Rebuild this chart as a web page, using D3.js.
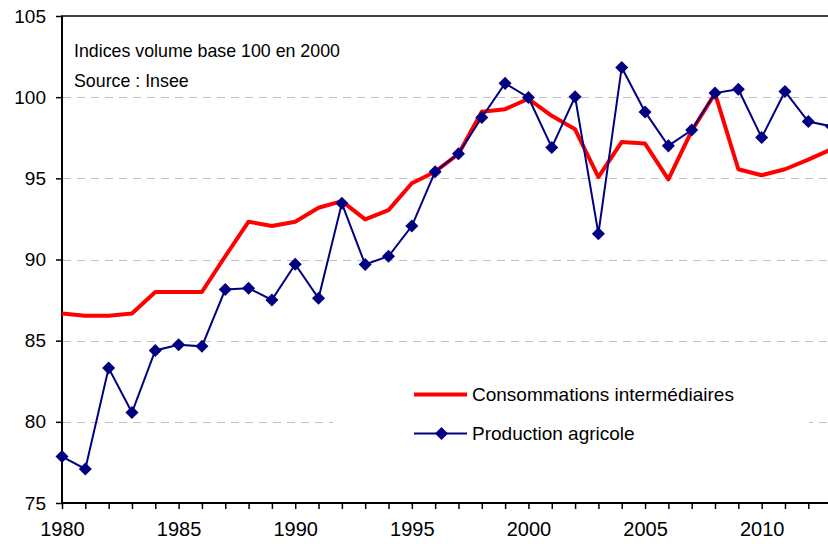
<!DOCTYPE html>
<html>
<head>
<meta charset="utf-8">
<script src="https://cdn.jsdelivr.net/npm/d3@7"></script>
<style>
  body { margin: 0; background: #fff; }
  svg { display: block; font-family: Arial, "Liberation Sans", sans-serif; }
</style>
</head>
<body>
<script>
// années et indices (base 100 en 2000)
let years = d3.range(1980, 2014);
let consommations = [86.67, 86.54, 86.54, 86.67, 88.0, 88.0, 88.0, 90.2, 92.33, 92.06,
  92.33, 93.19, 93.6, 92.47, 93.04, 94.7, 95.41, 96.5, 99.1, 99.26,
  99.9, 98.85, 98.02, 95.08, 97.24, 97.14, 94.94, 97.92, 100.23, 95.56,
  95.19, 95.56, 96.15, 96.8];
let production = [77.86, 77.1, 83.31, 80.57, 84.4, 84.75, 84.65, 88.15, 88.23, 87.51,
  89.71, 87.61, 93.46, 89.69, 90.2, 92.06, 95.41, 96.52, 98.75, 100.85,
  99.98, 96.9, 100.02, 91.59, 101.83, 99.09, 97.0, 97.98, 100.25, 100.49,
  97.51, 100.35, 98.5, 98.2];
let yTicks = [75, 80, 85, 90, 95, 100, 105];
let gridTicks = [80, 85, 90, 95, 100];
let xLabelYears = [1980, 1985, 1990, 1995, 2000, 2005, 2010];
let notes = ["Indices volume base 100 en 2000", "Source : Insee"];
let seriesNames = ["Consommations intermédiaires", "Production agricole"];

let W = 828, H = 544;
let svg = d3.select("body").append("svg").attr("width", W).attr("height", H);

let x = d3.scaleLinear().domain([1980, 2012]).range([62, 808.3]);
let y = d3.scaleLinear().domain([75, 105]).range([503, 16]);

// grille
svg.append("g").selectAll("line").data(gridTicks).enter().append("line")
  .attr("x1", 63).attr("x2", W)
  .attr("y1", d => Math.round(y(d)) + 0.5).attr("y2", d => Math.round(y(d)) + 0.5)
  .attr("stroke", "#c0c0c0").attr("stroke-width", 1)
  .attr("stroke-dasharray", "8,6");

// fond blanc de la légende (cache la grille)
svg.append("rect").attr("x", 333).attr("y", 362).attr("width", 476).attr("height", 100)
  .attr("fill", "#fff");

// axes
let yAxis = d3.axisLeft(y).tickValues(yTicks).tickSize(6).tickPadding(10);
let gy = svg.append("g").attr("transform", "translate(62,0)").call(yAxis);
gy.select(".domain").attr("stroke", "#000").attr("stroke-width", 2).attr("d", "M0," + y(105) + "V" + y(75));
gy.selectAll(".tick line").attr("stroke", "#000").attr("stroke-width", 1.5);
gy.selectAll(".tick text").attr("font-size", 19).attr("fill", "#000")
  .attr("font-family", "Arial, 'Liberation Sans', sans-serif");

let xAxis = d3.axisBottom(x).tickValues(years).tickSize(6).tickPadding(13)
  .tickFormat(d => xLabelYears.includes(d) ? d : "");
let gx = svg.append("g").attr("transform", "translate(0,503)").call(xAxis);
gx.select(".domain").attr("stroke", "#000").attr("stroke-width", 2).attr("d", "M61,0H" + W);
gx.selectAll(".tick line").attr("stroke", "#000").attr("stroke-width", 1.5);
gx.selectAll(".tick text").attr("font-size", 20).attr("fill", "#000")
  .attr("font-family", "Arial, 'Liberation Sans', sans-serif");

// bord haut
svg.append("line").attr("x1", 61).attr("x2", W).attr("y1", y(105)).attr("y2", y(105))
  .attr("stroke", "#000").attr("stroke-width", 1.5);

// notes
svg.append("g").selectAll("text").data(notes).enter().append("text")
  .attr("x", 74).attr("y", (d, i) => 57 + i * 30)
  .attr("font-size", 17.8).attr("fill", "#000")
  .text(d => d);

let line = d3.line().x((d, i) => x(years[i])).y(d => y(d));

svg.append("path").datum(consommations)
  .attr("fill", "none").attr("stroke", "#ff0000").attr("stroke-width", 4)
  .attr("stroke-linejoin", "round").attr("d", line);

svg.append("path").datum(production)
  .attr("fill", "none").attr("stroke", "#000080").attr("stroke-width", 2)
  .attr("d", line);

let diamond = d3.symbol().type(d3.symbolSquare).size(85);
svg.append("g").selectAll("path").data(production).enter().append("path")
  .attr("d", diamond)
  .attr("transform", (d, i) => "translate(" + x(years[i]) + "," + y(d) + ") rotate(45)")
  .attr("fill", "#000080");

// légende
let legend = svg.append("g");
legend.append("line").attr("x1", 414).attr("x2", 467).attr("y1", 394.5).attr("y2", 394.5)
  .attr("stroke", "#ff0000").attr("stroke-width", 4);
legend.append("line").attr("x1", 414).attr("x2", 467).attr("y1", 433.5).attr("y2", 433.5)
  .attr("stroke", "#000080").attr("stroke-width", 2);
legend.append("path").attr("d", diamond)
  .attr("transform", "translate(441.5,433.5) rotate(45)").attr("fill", "#000080");
legend.selectAll("text").data(seriesNames).enter().append("text")
  .attr("x", 472).attr("y", (d, i) => 401 + i * 39)
  .attr("font-size", 19).attr("fill", "#000")
  .text(d => d);
</script>
</body>
</html>
